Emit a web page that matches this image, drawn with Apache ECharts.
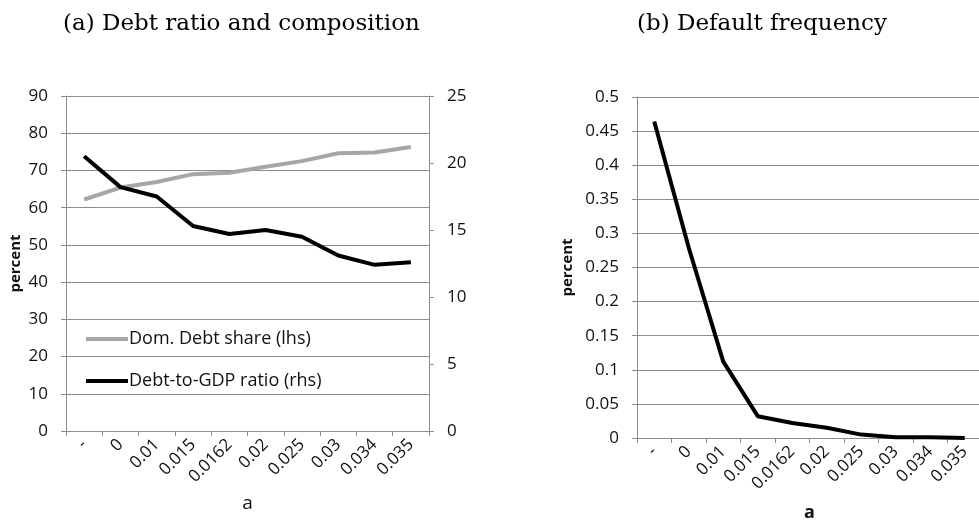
<!DOCTYPE html>
<html><head><meta charset="utf-8">
<script src="https://cdn.jsdelivr.net/npm/echarts@6/dist/echarts.min.js"></script>
<style>html,body{margin:0;padding:0;background:#fff}#c{width:979px;height:523px}</style>
</head><body><div id="c"></div>
<script>
const categories = ['-', '0', '0.01', '0.015', '0.0162', '0.02', '0.025', '0.03', '0.034', '0.035'];
const domDebtShare = [62.2, 65.4, 66.9, 69.0, 69.4, 71.0, 72.5, 74.6, 74.8, 76.3];
const debtToGDP = [20.5, 18.2, 17.5, 15.3, 14.7, 15.0, 14.5, 13.1, 12.4, 12.6];
const defaultFreq = [0.464, 0.279, 0.112, 0.032, 0.022, 0.015, 0.005, 0.001, 0.001, 0.0];
const leftTicks = { min: 0, max: 90, interval: 10 };
const rightTicks = { min: 0, max: 25, interval: 5 };
const freqTicks = { min: 0, max: 0.5, interval: 0.05 };

const FONT = 'Open Sans';
const gray = '#8c8c8c';
const chart = echarts.init(document.getElementById('c'));
const axisLine = { show: true, lineStyle: { color: gray, width: 1 } };
const axisTick = { show: true, length: 5, lineStyle: { color: gray } };
const lab = { color: '#111', fontFamily: FONT, fontSize: 17 };
const titleStyle = { fontFamily: 'DejaVu Serif', fontWeight: 'normal', fontSize: 23, color: '#000' };
chart.setOption({
  animation: false,
  title: [
    { text: '(a) Debt ratio and composition', left: 58, top: 8, textStyle: titleStyle },
    { text: '(b) Default frequency', left: 632, top: 8, textStyle: titleStyle }
  ],
  legend: {
    data: ['Dom. Debt share (lhs)', 'Debt-to-GDP ratio (rhs)'],
    orient: 'vertical', left: 86, top: 330, itemGap: 24, padding: 0,
    icon: 'rect', itemWidth: 42, itemHeight: 4,
    textStyle: { fontFamily: FONT, fontSize: 18, color: '#111', padding: [0, 0, 0, -4] }
  },
  grid: [
    { left: 66, top: 96, width: 363, height: 335, outerBoundsMode: 'none', containLabel: false },
    { left: 637, top: 97, width: 345, height: 341, outerBoundsMode: 'none', containLabel: false }
  ],
  xAxis: [
    { type: 'category', gridIndex: 0, data: categories, boundaryGap: true,
      axisLine: axisLine, axisTick: axisTick,
      axisLabel: Object.assign({ rotate: 45, margin: 11, interval: 0 }, lab),
      name: 'a', nameLocation: 'middle', nameGap: 63,
      nameTextStyle: { fontFamily: FONT, fontSize: 19, color: '#111' } },
    { type: 'category', gridIndex: 1, data: categories, boundaryGap: true,
      axisLine: axisLine, axisTick: axisTick,
      axisLabel: Object.assign({ rotate: 45, margin: 11, interval: 0 }, lab),
      name: 'a', nameLocation: 'middle', nameGap: 66,
      nameTextStyle: { fontFamily: FONT, fontSize: 18, color: '#111', fontWeight: 'bold' } }
  ],
  yAxis: [
    { type: 'value', gridIndex: 0, position: 'left', min: leftTicks.min, max: leftTicks.max, interval: leftTicks.interval,
      axisLine: axisLine, axisTick: axisTick, axisLabel: Object.assign({ margin: 18 }, lab),
      splitLine: { show: true, lineStyle: { color: gray } },
      name: 'percent', nameLocation: 'middle', nameGap: 43, nameRotate: 90,
      nameTextStyle: { fontFamily: FONT, fontSize: 15, fontWeight: 'bold', color: '#111' } },
    { type: 'value', gridIndex: 0, position: 'right', min: rightTicks.min, max: rightTicks.max, interval: rightTicks.interval,
      axisLine: axisLine, axisTick: axisTick, axisLabel: Object.assign({ margin: 18 }, lab),
      splitLine: { show: false } },
    { type: 'value', gridIndex: 1, position: 'left', min: freqTicks.min, max: freqTicks.max, interval: freqTicks.interval,
      axisLine: axisLine, axisTick: axisTick, axisLabel: Object.assign({ margin: 18 }, lab),
      splitLine: { show: true, lineStyle: { color: gray } },
      name: 'percent', nameLocation: 'middle', nameGap: 62, nameRotate: 90,
      nameTextStyle: { fontFamily: FONT, fontSize: 15, fontWeight: 'bold', color: '#111' } }
  ],
  series: [
    { name: 'Dom. Debt share (lhs)', type: 'line', xAxisIndex: 0, yAxisIndex: 0, data: domDebtShare,
      showSymbol: false, lineStyle: { color: '#a6a6a6', width: 4 }, itemStyle: { color: '#a6a6a6' } },
    { name: 'Debt-to-GDP ratio (rhs)', type: 'line', xAxisIndex: 0, yAxisIndex: 1, data: debtToGDP,
      showSymbol: false, lineStyle: { color: '#000', width: 4 }, itemStyle: { color: '#000' } },
    { name: 'Default frequency', type: 'line', xAxisIndex: 1, yAxisIndex: 2, data: defaultFreq,
      showSymbol: false, lineStyle: { color: '#000', width: 4 }, itemStyle: { color: '#000' } }
  ]
});
</script></body></html>
